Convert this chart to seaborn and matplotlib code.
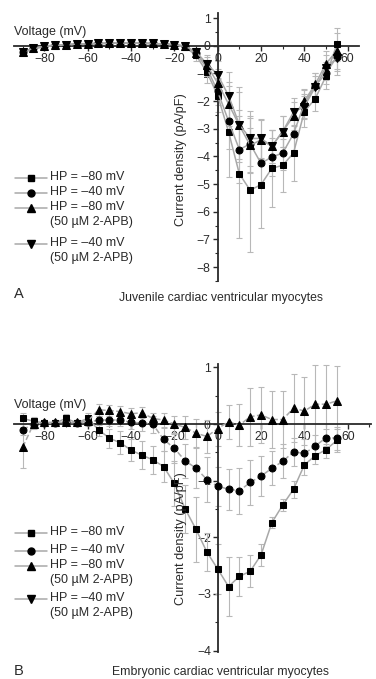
import matplotlib
matplotlib.use('Agg')
import matplotlib.pyplot as plt
from matplotlib.lines import Line2D
from matplotlib.ticker import MultipleLocator
import seaborn as sns

# membrane voltage steps (mV)
voltage = list(range(-90, 60, 5))

# ---- Panel A: juvenile myocytes (pA/pF) ----
a_hp80 = [-0.25, -0.12, -0.03, 0.0, 0.03, 0.05, 0.07, 0.08, 0.08, 0.1, 0.1, 0.08, 0.07, 0.05, 0.03,
          -0.05, -0.35, -0.95, -1.8, -3.1, -4.63, -5.22, -5.02, -4.43, -4.32, -3.88, -2.38, -1.92, -1.1, 0.05]
a_hp40 = [-0.22, -0.1, -0.02, 0.02, 0.04, 0.06, 0.07, 0.08, 0.09, 0.1, 0.1, 0.09, 0.08, 0.06, 0.04,
          -0.02, -0.28, -0.8, -1.65, -2.72, -3.75, -3.55, -4.25, -4.02, -3.88, -3.18, -2.1, -1.45, -1.0, -0.4]
a_hp80_apb = [-0.22, -0.1, -0.02, 0.02, 0.04, 0.06, 0.07, 0.08, 0.09, 0.1, 0.1, 0.09, 0.08, 0.06, 0.04,
              -0.02, -0.25, -0.7, -1.35, -2.1, -2.88, -3.6, -3.4, -3.63, -3.1, -2.55, -2.0, -1.4, -0.65, -0.18]
a_hp40_apb = [-0.22, -0.1, -0.02, 0.02, 0.04, 0.06, 0.07, 0.08, 0.09, 0.1, 0.1, 0.09, 0.08, 0.06, 0.04,
              -0.02, -0.22, -0.65, -1.05, -1.8, -2.85, -3.35, -3.35, -3.63, -3.1, -2.4, -2.2, -1.5, -0.8, -0.45]
a_hp80_err = [0.08] * 15 + [0.1, 0.2, 0.4, 0.6, 1.65, 2.3, 2.25, 1.55, 1.4, 0.95, 1.0, 0.55, 0.45, 0.45, 0.6]
a_hp40_err = [0.07] * 15 + [0.1, 0.15, 0.3, 0.5, 1.0, 1.2, 1.0, 0.8, 0.7, 0.6, 0.6, 0.5, 0.45, 0.4, 0.5]
a_hp80_apb_err = [0.07] * 15 + [0.1, 0.15, 0.3, 0.5, 0.8, 1.2, 1.0, 0.7, 0.6, 0.55, 0.5, 0.45, 0.4, 0.45, 0.65]
a_hp40_apb_err = [0.07] * 15 + [0.1, 0.15, 0.3, 0.5, 0.85, 1.35, 1.0, 0.7, 0.6, 0.55, 0.5, 0.45, 0.4, 0.45, 0.6]

# ---- Panel B: embryonic myocytes (pA/pF) ----
b_hp80 = [0.1, 0.05, 0.02, 0.02, 0.1, 0.02, 0.1, -0.1, -0.25, -0.33, -0.46, -0.55, -0.63, -0.75, -1.05,
          -1.5, -1.86, -2.26, -2.56, -2.87, -2.69, -2.6, -2.31, -1.74, -1.43, -1.15, -0.72, -0.56, -0.45, -0.29]
b_hp40 = [-0.1, 0.0, 0.02, 0.02, 0.03, 0.02, 0.03, 0.07, 0.07, 0.07, 0.03, 0.02, 0.0, -0.27, -0.43,
          -0.65, -0.78, -0.98, -1.1, -1.15, -1.18, -1.03, -0.92, -0.78, -0.66, -0.49, -0.52, -0.39, -0.24, -0.25]
b_hp80_apb = [-0.41, 0.0, 0.03, 0.03, 0.03, 0.03, 0.05, 0.25, 0.24, 0.22, 0.18, 0.2, 0.1, 0.07, 0.0,
              -0.06, -0.16, -0.22, -0.08, 0.04, -0.02, 0.13, 0.16, 0.08, 0.08, 0.28, 0.23, 0.35, 0.35, 0.41]
b_hp80_err = [0.1, 0.08, 0.06, 0.06, 0.08, 0.06, 0.1, 0.12, 0.17, 0.2, 0.2, 0.25, 0.25, 0.28, 0.4,
              0.43, 0.57, 0.33, 0.45, 0.52, 0.35, 0.28, 0.2, 0.1, 0.1, 0.15, 0.18, 0.15, 0.15, 0.2]
b_hp40_err = [0.1, 0.06, 0.05, 0.05, 0.05, 0.05, 0.06, 0.08, 0.1, 0.1, 0.12, 0.15, 0.15, 0.2, 0.25,
              0.3, 0.35, 0.4, 0.35, 0.36, 0.4, 0.4, 0.35, 0.3, 0.3, 0.25, 0.25, 0.2, 0.15, 0.2]
b_hp80_apb_err = [0.36, 0.08, 0.05, 0.05, 0.05, 0.05, 0.06, 0.1, 0.1, 0.1, 0.1, 0.1, 0.1, 0.12, 0.15,
                  0.2, 0.25, 0.3, 0.3, 0.3, 0.37, 0.51, 0.5, 0.5, 0.5, 0.6, 0.6, 0.69, 0.7, 0.62]

legend_labels = ['HP = \u201380 mV', 'HP = \u201340 mV',
                 'HP = \u201380 mV\n(50 \u00b5M 2-APB)', 'HP = \u201340 mV\n(50 \u00b5M 2-APB)']
legend_markers = ['s', 'o', '^', 'v']
x_ticks = [-80, -60, -40, -20, 0, 20, 40, 60]

sns.set_style('white')
plt.rcParams['font.family'] = ['Liberation Sans', 'DejaVu Sans']
plt.rcParams['axes.unicode_minus'] = True

LINE_GRAY = '#a8a8a8'
ERR_GRAY = '#b8b8b8'
INK = '#2a2a2a'
MS = {'s': 4.5, 'o': 5.0, '^': 5.5, 'v': 5.5}
FS = 8.8

W, H = 376, 679
fig = plt.figure(figsize=(W / 100, H / 100), dpi=100)


def px(x, y):
    return x / W, 1 - y / H


def add_axes(left, right, top, bottom):
    return fig.add_axes([left / W, 1 - bottom / H, (right - left) / W, (bottom - top) / H])


def draw_panel(ax, series, xlim, ylim):
    for vals, errs, marker, ls in series:
        ax.errorbar(voltage, vals, yerr=errs, fmt='none', ecolor=ERR_GRAY,
                    elinewidth=0.8, capsize=2.5, capthick=0.8, zorder=1)
        sns.lineplot(x=voltage, y=vals, ax=ax, color=LINE_GRAY, lw=1.1, linestyle=ls,
                     marker=marker, markersize=MS[marker], markerfacecolor='black',
                     markeredgecolor='black', errorbar=None, sort=False, zorder=3)
    ax.set_xlim(*xlim)
    ax.set_ylim(*ylim)
    for side in ['top', 'right']:
        ax.spines[side].set_visible(False)
    for side in ['left', 'bottom']:
        ax.spines[side].set_position(('data', 0))
        ax.spines[side].set_color(INK)
        ax.spines[side].set_linewidth(1.3)
        ax.spines[side].set_zorder(2)
    ax.set_xticks(x_ticks)
    ax.xaxis.set_minor_locator(MultipleLocator(10))
    ax.yaxis.set_major_locator(MultipleLocator(1))
    ax.yaxis.set_minor_locator(MultipleLocator(0.5))
    ax.tick_params(which='both', direction='out', color=INK, labelsize=FS, labelcolor=INK,
                   bottom=True, left=True)
    ax.tick_params(which='major', length=3.5, width=1)
    ax.tick_params(which='minor', length=2.5, width=0.8)
    ax.tick_params(axis='x', pad=1.5)
    ax.tick_params(axis='y', pad=1.5)
    ax.set_xlabel('')
    ax.set_ylabel('')
    ax.patch.set_alpha(0)


def draw_legend(rows):
    for (label, marker), y in zip(zip(legend_labels, legend_markers), rows):
        x0, y0 = px(15, y)
        x1, _ = px(47, y)
        fig.add_artist(Line2D([x0, x1], [y0, y0], color=LINE_GRAY, lw=1.1))
        fig.add_artist(Line2D([(x0 + x1) / 2], [y0], marker=marker, markersize=MS[marker],
                              color='black', lw=0))
        tx, ty = px(50, y - 7)
        fig.text(tx, ty, label, fontsize=FS + 0.2, color=INK, va='top', ha='left', linespacing=1.35)


# ----- Panel A -----
ax_a = add_axes(14, 358.5, 13.3, 281)
draw_panel(ax_a, [(a_hp80, a_hp80_err, 's', '-'),
                  (a_hp40, a_hp40_err, 'o', '-'),
                  (a_hp80_apb, a_hp80_apb_err, '^', '-'),
                  (a_hp40_apb, a_hp40_apb_err, 'v', '-')],
           (-94, 65), (-8.5, 1.17))
fig.text(*px(14, 32), 'Voltage (mV)', fontsize=FS + 0.2, color=INK, va='center', ha='left')
fig.text(*px(181, 160), 'Current density (pA/pF)', fontsize=9.2, color=INK,
         rotation=90, va='center', ha='center')
draw_legend([178, 193, 208, 244])
fig.text(*px(14, 294), 'A', fontsize=10.5, color=INK, va='center', ha='left')
fig.text(*px(221, 298), 'Juvenile cardiac ventricular myocytes', fontsize=FS, color=INK,
         va='center', ha='center')

# ----- Panel B -----
ax_b = add_axes(14, 370.5, 364, 651.7)
draw_panel(ax_b, [(b_hp80, b_hp80_err, 's', '-'),
                  (b_hp40, b_hp40_err, 'o', '--'),
                  (b_hp80_apb, b_hp80_apb_err, '^', '--')],
           (-94, 70.5), (-4.02, 1.06))
fig.text(*px(14, 405), 'Voltage (mV)', fontsize=FS + 0.2, color=INK, va='center', ha='left')
fig.text(*px(181, 539), 'Current density (pA/pF)', fontsize=9.2, color=INK,
         rotation=90, va='center', ha='center')
draw_legend([533, 551, 566, 599])
fig.text(*px(14, 671), 'B', fontsize=10.5, color=INK, va='center', ha='left')
fig.text(*px(220, 672), 'Embryonic cardiac ventricular myocytes', fontsize=FS, color=INK,
         va='center', ha='center')

fig.savefig('out.png', dpi=100)
plt.close(fig)
